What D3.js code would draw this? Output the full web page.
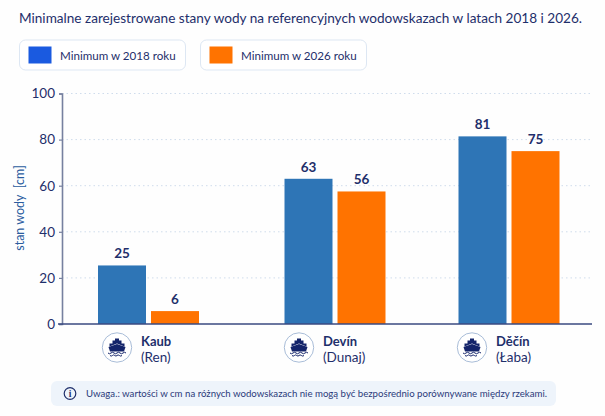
<!DOCTYPE html>
<html>
<head>
<meta charset="utf-8">
<script src="https://cdn.jsdelivr.net/npm/d3@7"></script>
<style>
  html, body { margin: 0; padding: 0; background: #fefefe; }
  svg { display: block; font-family: Lato, sans-serif; }
</style>
</head>
<body>
<svg id="chart"></svg>
<script>
// Water level minimums chart
const stations = ['Kaub', 'Devín', 'Děčín'];
const rivers = ['(Ren)', '(Dunaj)', '(Łaba)'];
const values2018 = [25.4, 63, 81.4];
const values2026 = [5.6, 57.5, 75];
const labels2018 = ['25', '63', '81'];
const labels2026 = ['6', '56', '75'];
const yTicks = [0, 20, 40, 60, 80, 100];
const legendLabels = ['Minimum w 2018 roku', 'Minimum w 2026 roku'];

const width = 605;
const height = 416;
const navy = '#1f2f6b';
const blue = '#2e75b6';
const orange = '#ff7300';

const svg = d3.select('#chart').attr('width', width).attr('height', height);

// Title
svg.append('text')
  .attr('x', 19)
  .attr('y', 23)
  .style('font-size', '13.6px')
  .style('fill', navy)
  .text('Minimalne zarejestrowane stany wody na referencyjnych wodowskazach w latach 2018 i 2026.');

// Legend
const legendX = d3.scaleOrdinal().domain(legendLabels).range([19, 200]);
const legendColor = d3.scaleOrdinal().domain(legendLabels).range(['#1a5ae0', orange]);
const legend = svg.selectAll('.legend-item')
  .data(legendLabels)
  .enter()
  .append('g')
  .attr('class', 'legend-item')
  .attr('transform', d => `translate(${legendX(d)},40)`);

legend.append('rect')
  .attr('x', 0.5)
  .attr('y', 0)
  .attr('width', 166)
  .attr('height', 30)
  .attr('rx', 6)
  .style('fill', '#fff')
  .style('stroke', '#dde7f3');

legend.append('rect')
  .attr('x', 9.5)
  .attr('y', 6.5)
  .attr('width', 23)
  .attr('height', 17)
  .style('fill', d => legendColor(d));

legend.append('text')
  .attr('x', 41)
  .attr('y', 19.5)
  .style('font-size', '11.6px')
  .style('fill', navy)
  .text(d => d);

// Scales
const x = d3.scaleOrdinal().domain(stations).range([148.5, 335, 509]);
const labelX = d3.scaleOrdinal().domain(stations).range([117, 299, 472]);
const y = d3.scaleLinear().domain([0, 100]).range([324, 93.5]);
const barWidth = 48;
const barGap = 5;

// Grid lines
svg.append('g')
  .selectAll('line')
  .data(yTicks.slice(1))
  .enter()
  .append('line')
  .attr('x1', 62)
  .attr('x2', 592)
  .attr('y1', d => y(d))
  .attr('y2', d => y(d))
  .style('stroke', '#cfdcec')
  .style('stroke-width', 1)
  .style('stroke-dasharray', '1.5,3');

// Y axis
const yAxis = svg.append('g')
  .attr('transform', 'translate(62,0)')
  .call(d3.axisLeft(y).tickValues(yTicks).tickSize(3).tickPadding(4));
yAxis.select('.domain').style('stroke', '#76809f').style('stroke-width', 1.6);
yAxis.selectAll('.tick line').style('stroke', '#76809f').style('stroke-width', 1.2);
yAxis.selectAll('text')
  .style('font-family', 'Lato, sans-serif')
  .style('font-size', '13.5px')
  .style('fill', navy);

svg.append('text')
  .attr('transform', 'translate(24,208) rotate(-90)')
  .attr('text-anchor', 'middle')
  .style('font-size', '12.5px')
  .style('fill', '#2b5c9e')
  .style('white-space', 'pre')
  .text('stan wody  [cm]');

// Bars
const groups = svg.selectAll('.station')
  .data(stations)
  .enter()
  .append('g')
  .attr('class', 'station')
  .attr('transform', d => `translate(${x(d)},0)`);

groups.append('rect')
  .attr('x', -barWidth - barGap / 2)
  .attr('y', (d, i) => y(values2018[i]))
  .attr('width', barWidth)
  .attr('height', (d, i) => y(0) - y(values2018[i]))
  .style('fill', blue);

groups.append('rect')
  .attr('x', barGap / 2)
  .attr('y', (d, i) => y(values2026[i]))
  .attr('width', barWidth)
  .attr('height', (d, i) => y(0) - y(values2026[i]))
  .style('fill', orange);

groups.append('text')
  .attr('x', -barWidth / 2 - barGap / 2)
  .attr('y', (d, i) => y(values2018[i]) - 7)
  .attr('text-anchor', 'middle')
  .style('font-size', '13.5px')
  .style('font-weight', 'bold')
  .style('fill', navy)
  .text((d, i) => labels2018[i]);

groups.append('text')
  .attr('x', barWidth / 2 + barGap / 2)
  .attr('y', (d, i) => y(values2026[i]) - 7)
  .attr('text-anchor', 'middle')
  .style('font-size', '13.5px')
  .style('font-weight', 'bold')
  .style('fill', navy)
  .text((d, i) => labels2026[i]);

// X axis line
svg.append('line')
  .attr('x1', 58)
  .attr('x2', 592)
  .attr('y1', y(0))
  .attr('y2', y(0))
  .style('stroke', '#3a4a80')
  .style('stroke-width', 1.4);

// Station labels with ship badge
const stationLabels = svg.selectAll('.station-label')
  .data(stations)
  .enter()
  .append('g')
  .attr('class', 'station-label')
  .attr('transform', d => `translate(${labelX(d)},0)`);

const badge = stationLabels.append('g').attr('transform', 'translate(0,347.5)');

badge.append('circle')
  .attr('r', 14.7)
  .style('fill', '#fff')
  .style('stroke', '#a9bdd8')
  .style('stroke-width', 1);

// ship: funnel, deck, hull, waves
badge.append('path')
  .attr('d', 'M-2,-9h4v2h2.5v3h3v3l-7.5,-3l-7.5,3v-3h3v-3h2.5z')
  .style('fill', '#14246a');
badge.append('path')
  .attr('d', 'M-8.5,-0.5l8.5,-3l8.5,3l-1.5,4.5h-14z')
  .style('fill', '#14246a');
badge.append('path')
  .attr('d', 'M-9,5.5q1.5,1.5 3,0t3,0t3,0t3,0t3,0t3,0M-7,8q1.2,1.2 2.4,0t2.4,0t2.2,0t2.4,0t2.6,0')
  .style('fill', 'none')
  .style('stroke', '#14246a')
  .style('stroke-width', 1);

stationLabels.append('text')
  .attr('x', 24)
  .attr('y', 345.5)
  .style('font-size', '13px')
  .style('font-weight', 'bold')
  .style('fill', navy)
  .text(d => d);

stationLabels.append('text')
  .attr('x', 24)
  .attr('y', 361.5)
  .style('font-size', '13.5px')
  .style('fill', navy)
  .text((d, i) => rivers[i]);

// Note box
svg.append('rect')
  .attr('x', 51)
  .attr('y', 381)
  .attr('width', 505)
  .attr('height', 25)
  .attr('rx', 6)
  .style('fill', '#eef4fb');

const info = svg.append('g').attr('transform', 'translate(70,393.5)');
info.append('circle')
  .attr('r', 5.8)
  .style('fill', 'none')
  .style('stroke', '#1f2f6b')
  .style('stroke-width', 1.2);
info.append('text')
  .attr('text-anchor', 'middle')
  .attr('y', 3.5)
  .style('font-family', '"Liberation Serif", serif')
  .style('font-size', '9.5px')
  .style('font-weight', 'bold')
  .style('fill', navy)
  .text('i');

svg.append('text')
  .attr('x', 86)
  .attr('y', 397)
  .attr('textLength', 461)
  .attr('lengthAdjust', 'spacingAndGlyphs')
  .style('font-size', '10.1px')
  .style('fill', '#2a3a7a')
  .text('Uwaga.: wartości w cm na różnych wodowskazach nie mogą być bezpośrednio porównywane między rzekami.');
</script>
</body>
</html>
